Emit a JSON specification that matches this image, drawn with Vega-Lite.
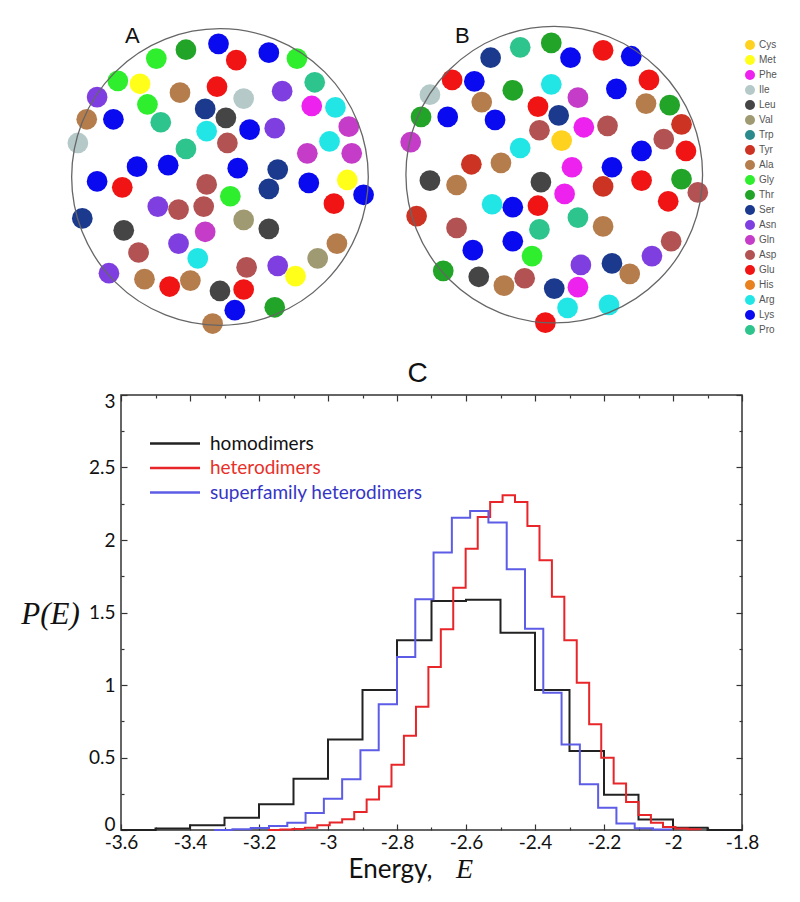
{
  "$schema": "https://vega.github.io/schema/vega-lite/v6.json",
  "padding": 0,
  "autosize": {"type": "pad"},
  "background": "white",
  "datasets": {
    "dotsA": [
      {"aa":"Lys","x":-1,"y":90},{"aa":"Thr","x":-23,"y":86},{"aa":"Gly","x":-43,"y":80},{"aa":"Glu","x":11,"y":79},{"aa":"Lys","x":33,"y":84},{"aa":"Gly","x":52,"y":80},
      {"aa":"Gly","x":-69,"y":65},{"aa":"Met","x":-54,"y":63},{"aa":"Asn","x":-83,"y":54},{"aa":"Ala","x":-27,"y":57},{"aa":"Glu","x":-2,"y":61},{"aa":"Ile","x":16,"y":53},
      {"aa":"Asn","x":42,"y":58},{"aa":"Pro","x":64,"y":64},{"aa":"Ala","x":-90,"y":39},{"aa":"Lys","x":-72,"y":39},{"aa":"Gly","x":-49,"y":49},{"aa":"Pro","x":-40,"y":37},
      {"aa":"Ser","x":-10,"y":46},{"aa":"Leu","x":4,"y":40},{"aa":"Phe","x":62,"y":48},{"aa":"Arg","x":78,"y":47},{"aa":"Ile","x":-96,"y":23},{"aa":"Arg","x":-9,"y":31},
      {"aa":"Asp","x":5,"y":23},{"aa":"Lys","x":20,"y":32},{"aa":"Asn","x":37,"y":33},{"aa":"Gln","x":87,"y":34},{"aa":"Pro","x":-23,"y":19},{"aa":"Arg","x":74,"y":24},
      {"aa":"Gln","x":59,"y":16},{"aa":"Gln","x":89,"y":16},{"aa":"Lys","x":-56,"y":7},{"aa":"Lys","x":-35,"y":8},{"aa":"Lys","x":12,"y":6},{"aa":"Ser","x":39,"y":5},
      {"aa":"Lys","x":-83,"y":-3},{"aa":"Glu","x":-66,"y":-7},{"aa":"Asp","x":-9,"y":-5},{"aa":"Gly","x":7,"y":-13},{"aa":"Ser","x":33,"y":-8},{"aa":"Lys","x":60,"y":-4},
      {"aa":"Met","x":86,"y":-2},{"aa":"Lys","x":97,"y":-12},{"aa":"Glu","x":77,"y":-18},{"aa":"Asn","x":-42,"y":-20},{"aa":"Asp","x":-28,"y":-22},{"aa":"Asp","x":-11,"y":-20},
      {"aa":"Ser","x":-93,"y":-28},{"aa":"Val","x":16,"y":-29},{"aa":"Leu","x":-65,"y":-36},{"aa":"Leu","x":33,"y":-35},{"aa":"Gln","x":-10,"y":-37},{"aa":"Asn","x":-28,"y":-45},
      {"aa":"Asp","x":-55,"y":-51},{"aa":"Arg","x":-15,"y":-55},{"aa":"Ala","x":79,"y":-45},{"aa":"Val","x":66,"y":-55},{"aa":"Asp","x":18,"y":-61},{"aa":"Asn","x":39,"y":-60},
      {"aa":"Asn","x":-75,"y":-65},{"aa":"Ala","x":-51,"y":-69},{"aa":"Glu","x":-34,"y":-74},{"aa":"Ala","x":-20,"y":-70},{"aa":"Met","x":51,"y":-67},{"aa":"Leu","x":0,"y":-77},
      {"aa":"Glu","x":16,"y":-76},{"aa":"Lys","x":10,"y":-90},{"aa":"Thr","x":37,"y":-88},{"aa":"Ala","x":-5,"y":-99}
    ],
    "dotsB": [
      {"aa":"Ser","x":-43,"y":79},{"aa":"Pro","x":-23,"y":86},{"aa":"Thr","x":-2,"y":89},{"aa":"Lys","x":11,"y":79},{"aa":"Glu","x":33,"y":84},{"aa":"Lys","x":52,"y":80},
      {"aa":"Glu","x":-69,"y":64},{"aa":"Lys","x":-54,"y":63},{"aa":"Ile","x":-84,"y":54},{"aa":"Thr","x":-28,"y":57},{"aa":"Arg","x":-2,"y":61},{"aa":"Gln","x":16,"y":52},
      {"aa":"Lys","x":42,"y":58},{"aa":"Glu","x":64,"y":64},{"aa":"Ala","x":-49,"y":49},{"aa":"Thr","x":-90,"y":39},{"aa":"Lys","x":-72,"y":39},{"aa":"Lys","x":-40,"y":37},
      {"aa":"Glu","x":-11,"y":46},{"aa":"Ser","x":3,"y":40},{"aa":"Ala","x":62,"y":48},{"aa":"Thr","x":78,"y":47},{"aa":"Asp","x":-10,"y":30},{"aa":"Phe","x":20,"y":32},
      {"aa":"Asp","x":36,"y":33},{"aa":"Cys","x":5,"y":23},{"aa":"Gln","x":-97,"y":22},{"aa":"Asp","x":74,"y":24},{"aa":"Tyr","x":86,"y":34},{"aa":"Arg","x":-23,"y":18},
      {"aa":"Lys","x":59,"y":16},{"aa":"Glu","x":89,"y":16},{"aa":"Tyr","x":-56,"y":7},{"aa":"Ala","x":-36,"y":8},{"aa":"Phe","x":12,"y":5},{"aa":"Lys","x":39,"y":5},
      {"aa":"Leu","x":-84,"y":-4},{"aa":"Ala","x":-66,"y":-7},{"aa":"Leu","x":-9,"y":-5},{"aa":"Phe","x":7,"y":-13},{"aa":"Tyr","x":33,"y":-8},{"aa":"Glu","x":59,"y":-4},
      {"aa":"Thr","x":86,"y":-3},{"aa":"Asp","x":97,"y":-12},{"aa":"Arg","x":-42,"y":-20},{"aa":"Lys","x":-28,"y":-22},{"aa":"Glu","x":-11,"y":-21},{"aa":"Tyr","x":-93,"y":-28},
      {"aa":"Pro","x":16,"y":-29},{"aa":"Glu","x":77,"y":-18},{"aa":"Asp","x":-66,"y":-36},{"aa":"Pro","x":-10,"y":-37},{"aa":"Ala","x":33,"y":-35},{"aa":"Lys","x":-28,"y":-45},
      {"aa":"Lys","x":-55,"y":-51},{"aa":"Gly","x":-15,"y":-55},{"aa":"Asp","x":79,"y":-45},{"aa":"Asn","x":18,"y":-61},{"aa":"Ser","x":39,"y":-60},{"aa":"Asn","x":66,"y":-55},
      {"aa":"Thr","x":-75,"y":-65},{"aa":"Leu","x":-51,"y":-69},{"aa":"Ala","x":-34,"y":-75},{"aa":"Asp","x":-20,"y":-70},{"aa":"Ala","x":51,"y":-67},{"aa":"Ser","x":0,"y":-77},
      {"aa":"Phe","x":16,"y":-76},{"aa":"Arg","x":9,"y":-90},{"aa":"Arg","x":37,"y":-88},{"aa":"Glu","x":-6,"y":-100}
    ],
    "center": [{"x": 0, "y": 0}],
    "hist": [
      {"series":"homodimers","E":-3.6,"P":0},{"series":"homodimers","E":-3.5,"P":0.01},{"series":"homodimers","E":-3.4,"P":0.032},{"series":"homodimers","E":-3.3,"P":0.085},
      {"series":"homodimers","E":-3.2,"P":0.177},{"series":"homodimers","E":-3.1,"P":0.354},{"series":"homodimers","E":-3.0,"P":0.625},{"series":"homodimers","E":-2.9,"P":0.966},
      {"series":"homodimers","E":-2.8,"P":1.308},{"series":"homodimers","E":-2.7,"P":1.579},{"series":"homodimers","E":-2.6,"P":1.588},{"series":"homodimers","E":-2.5,"P":1.361},
      {"series":"homodimers","E":-2.4,"P":0.966},{"series":"homodimers","E":-2.3,"P":0.545},{"series":"homodimers","E":-2.2,"P":0.243},{"series":"homodimers","E":-2.1,"P":0.072},
      {"series":"homodimers","E":-2.0,"P":0.016},{"series":"homodimers","E":-1.9,"P":0},{"series":"homodimers","E":-1.8,"P":0},
      {"series":"heterodimers","E":-3.174,"P":0},{"series":"heterodimers","E":-3.138,"P":0.003},{"series":"heterodimers","E":-3.103,"P":0.007},{"series":"heterodimers","E":-3.067,"P":0.015},
      {"series":"heterodimers","E":-3.031,"P":0.032},{"series":"heterodimers","E":-2.995,"P":0.052},{"series":"heterodimers","E":-2.959,"P":0.075},{"series":"heterodimers","E":-2.924,"P":0.125},
      {"series":"heterodimers","E":-2.888,"P":0.21},{"series":"heterodimers","E":-2.852,"P":0.30},{"series":"heterodimers","E":-2.816,"P":0.45},{"series":"heterodimers","E":-2.780,"P":0.65},
      {"series":"heterodimers","E":-2.745,"P":0.85},{"series":"heterodimers","E":-2.709,"P":1.124},{"series":"heterodimers","E":-2.673,"P":1.384},{"series":"heterodimers","E":-2.637,"P":1.671},
      {"series":"heterodimers","E":-2.601,"P":1.94},{"series":"heterodimers","E":-2.566,"P":2.159},{"series":"heterodimers","E":-2.530,"P":2.262},{"series":"heterodimers","E":-2.494,"P":2.308},
      {"series":"heterodimers","E":-2.458,"P":2.262},{"series":"heterodimers","E":-2.422,"P":2.097},{"series":"heterodimers","E":-2.387,"P":1.86},{"series":"heterodimers","E":-2.351,"P":1.609},
      {"series":"heterodimers","E":-2.315,"P":1.308},{"series":"heterodimers","E":-2.279,"P":1.015},{"series":"heterodimers","E":-2.243,"P":0.729},{"series":"heterodimers","E":-2.208,"P":0.499},
      {"series":"heterodimers","E":-2.172,"P":0.32},{"series":"heterodimers","E":-2.136,"P":0.193},{"series":"heterodimers","E":-2.100,"P":0.103},{"series":"heterodimers","E":-2.064,"P":0.05},
      {"series":"heterodimers","E":-2.029,"P":0.02},{"series":"heterodimers","E":-1.993,"P":0.01},{"series":"heterodimers","E":-1.957,"P":0.005},{"series":"heterodimers","E":-1.921,"P":0},
      {"series":"superfamily heterodimers","E":-3.330,"P":0},{"series":"superfamily heterodimers","E":-3.277,"P":0.005},{"series":"superfamily heterodimers","E":-3.224,"P":0.013},
      {"series":"superfamily heterodimers","E":-3.171,"P":0.028},{"series":"superfamily heterodimers","E":-3.118,"P":0.05},{"series":"superfamily heterodimers","E":-3.065,"P":0.117},
      {"series":"superfamily heterodimers","E":-3.012,"P":0.215},{"series":"superfamily heterodimers","E":-2.959,"P":0.35},{"series":"superfamily heterodimers","E":-2.906,"P":0.55},
      {"series":"superfamily heterodimers","E":-2.853,"P":0.867},{"series":"superfamily heterodimers","E":-2.800,"P":1.193},{"series":"superfamily heterodimers","E":-2.747,"P":1.591},
      {"series":"superfamily heterodimers","E":-2.694,"P":1.913},{"series":"superfamily heterodimers","E":-2.641,"P":2.154},{"series":"superfamily heterodimers","E":-2.588,"P":2.2},
      {"series":"superfamily heterodimers","E":-2.535,"P":2.12},{"series":"superfamily heterodimers","E":-2.482,"P":1.798},{"series":"superfamily heterodimers","E":-2.429,"P":1.388},
      {"series":"superfamily heterodimers","E":-2.376,"P":0.947},{"series":"superfamily heterodimers","E":-2.323,"P":0.59},{"series":"superfamily heterodimers","E":-2.270,"P":0.315},
      {"series":"superfamily heterodimers","E":-2.217,"P":0.154},{"series":"superfamily heterodimers","E":-2.164,"P":0.044},{"series":"superfamily heterodimers","E":-2.111,"P":0.012},
      {"series":"superfamily heterodimers","E":-2.058,"P":0.004},{"series":"superfamily heterodimers","E":-2.005,"P":0}
    ]
  },
  "vconcat": [
    {
      "hconcat": [
        {
          "width": 380, "height": 345,
          "title": {"text": "A", "anchor": "start", "dx": 125, "offset": -65, "baseline": "alphabetic", "fontSize": 22, "font": "Liberation Sans", "fontWeight": "normal", "color": "#111111"},
          "view": {"stroke": null, "fill": "white"},
          "layer": [
            {
              "data": {"name": "dotsA"},
              "mark": {"type": "point", "filled": true, "size": 430, "opacity": 1},
              "encoding": {
                "x": {"field": "x", "type": "quantitative", "scale": {"domain": [-148.6, 108.1], "nice": false, "zero": false}, "axis": null},
                "y": {"field": "y", "type": "quantitative", "scale": {"domain": [-113.5, 119.6], "nice": false, "zero": false}, "axis": null},
                "color": {"field": "aa", "type": "nominal",
                  "scale": {"domain": ["Cys","Met","Phe","Ile","Leu","Val","Trp","Tyr","Ala","Gly","Thr","Ser","Asn","Gln","Asp","Glu","His","Arg","Lys","Pro"],
                            "range": ["#FFD21F","#FFFF1A","#EE22EE","#B5C9C9","#454545","#A09A72","#2B8A8C","#CC3322","#B67D4C","#2EEE2E","#22A428","#1B3A8E","#7F3FE0","#C43CC8","#B25252","#F01414","#E8821E","#22E6E6","#0A0AF0","#2EC48E"]},
                  "legend": null}
              }
            },
            {
              "data": {"name": "center"},
              "mark": {"type": "point", "filled": false, "size": 88000, "stroke": "#666666", "strokeWidth": 1.3, "opacity": 1},
              "encoding": {
                "x": {"field": "x", "type": "quantitative"},
                "y": {"field": "y", "type": "quantitative"}
              }
            }
          ]
        },
        {
          "width": 325, "height": 345,
          "title": {"text": "B", "anchor": "start", "dx": 60, "offset": -65, "baseline": "alphabetic", "fontSize": 22, "font": "Liberation Sans", "fontWeight": "normal", "color": "#111111"},
          "view": {"stroke": null, "fill": "white"},
          "layer": [
            {
              "data": {"name": "dotsB"},
              "mark": {"type": "point", "filled": true, "size": 430, "opacity": 1},
              "encoding": {
                "x": {"field": "x", "type": "quantitative", "scale": {"domain": [-107.6, 112.0], "nice": false, "zero": false}, "axis": null},
                "y": {"field": "y", "type": "quantitative", "scale": {"domain": [-115.1, 118.0], "nice": false, "zero": false}, "axis": null},
                "color": {"field": "aa", "type": "nominal",
                  "scale": {"domain": ["Cys","Met","Phe","Ile","Leu","Val","Trp","Tyr","Ala","Gly","Thr","Ser","Asn","Gln","Asp","Glu","His","Arg","Lys","Pro"],
                            "range": ["#FFD21F","#FFFF1A","#EE22EE","#B5C9C9","#454545","#A09A72","#2B8A8C","#CC3322","#B67D4C","#2EEE2E","#22A428","#1B3A8E","#7F3FE0","#C43CC8","#B25252","#F01414","#E8821E","#22E6E6","#0A0AF0","#2EC48E"]},
                  "legend": {"orient": "none", "legendX": 350, "legendY": 40, "title": null, "symbolType": "circle", "symbolSize": 100, "symbolStrokeWidth": 0, "symbolOpacity": 1,
                             "labelFont": "Liberation Sans", "labelFontSize": 10, "labelColor": "#555555", "labelOffset": 4, "rowPadding": 5, "padding": 0}}
              }
            },
            {
              "data": {"name": "center"},
              "mark": {"type": "point", "filled": false, "size": 88000, "stroke": "#666666", "strokeWidth": 1.3, "opacity": 1},
              "encoding": {
                "x": {"field": "x", "type": "quantitative"},
                "y": {"field": "y", "type": "quantitative"}
              }
            }
          ]
        }
      ],
      "spacing": 15,
      "bounds": "flush",
      "resolve": {"scale": {"x": "independent", "y": "independent", "color": "independent"}, "legend": {"color": "independent"}}
    },
    {
      "hconcat": [
        {
          "width": 106, "height": 435,
          "data": {"values": []},
          "mark": {"type": "point", "opacity": 0},
          "view": {"stroke": null}
        },
        {
          "width": 621, "height": 435,
          "data": {"name": "hist"},
          "title": {"text": "C", "anchor": "middle", "dx": -14, "offset": -17.5, "baseline": "alphabetic", "fontSize": 28, "font": "Liberation Sans", "fontWeight": "normal", "color": "#111111"},
          "view": {"stroke": "#333333", "strokeWidth": 1.5},
          "layer": [
            {
              "mark": {"type": "line", "interpolate": "step-after", "strokeWidth": 2},
              "encoding": {
                "x": {"field": "E", "type": "quantitative", "scale": {"domain": [-3.6, -1.8], "nice": false, "zero": false},
                  "axis": {"orient": "bottom", "values": [-3.6,-3.5,-3.4,-3.3,-3.2,-3.1,-3,-2.9,-2.8,-2.7,-2.6,-2.5,-2.4,-2.3,-2.2,-2.1,-2,-1.9,-1.8],
                    "domain": false, "grid": false,
                    "tickSize": {"condition": {"test": "abs(round(datum.value*10)) % 2 == 0", "value": -6}, "value": -3},
                    "tickColor": "#333333", "tickWidth": 1.2,
                    "labelExpr": "abs(round(datum.value*10)) % 2 == 0 ? datum.value + '' : ''",
                    "labelFont": "Lato", "labelFontSize": 19, "labelColor": "#111111", "labelPadding": 9, "labelFlush": false, "labelOverlap": false, "labelBound": false,
                    "title": "Energy,", "titleFont": "Lato", "titleFontSize": 26, "titleFontWeight": "normal", "titleColor": "#111111",
                    "titleX": 269, "titleY": 47, "titleAlign": "center", "titleBaseline": "alphabetic"}},
                "y": {"field": "P", "type": "quantitative", "scale": {"domain": [0, 3], "nice": false, "zero": false},
                  "axis": {"orient": "left", "values": [0,0.25,0.5,0.75,1,1.25,1.5,1.75,2,2.25,2.5,2.75,3],
                    "domain": false, "grid": false,
                    "tickSize": {"condition": {"test": "round(datum.value*4) % 2 == 0", "value": -6}, "value": -3},
                    "tickColor": "#333333", "tickWidth": 1.2,
                    "labelExpr": "round(datum.value*4) % 2 == 0 ? datum.value + '' : ''",
                    "labelOffset": {"condition": [{"test": "datum.value == 0", "value": -6}, {"test": "datum.value == 3", "value": 6}], "value": 0},
                    "labelFont": "Lato", "labelFontSize": 19, "labelColor": "#111111", "labelPadding": 12, "labelOverlap": false, "labelBound": false,
                    "title": "P(E)", "titleFont": "Liberation Serif", "titleFontStyle": "italic", "titleFontSize": 31, "titleFontWeight": "normal", "titleColor": "#111111",
                    "titleAngle": 0, "titleX": -71, "titleY": 228, "titleAlign": "center", "titleBaseline": "alphabetic"}},
                "color": {"field": "series", "type": "nominal",
                  "scale": {"domain": ["homodimers", "heterodimers", "superfamily heterodimers"], "range": ["#222222", "#e8262a", "#5c5ce6"]},
                  "legend": {"orient": "none", "legendX": 165.5, "legendY": 39, "title": null,
                    "symbolType": "M-5,0H5", "symbolSize": 100, "symbolStrokeWidth": 2.5,
                    "labelFont": "Lato", "labelFontSize": 19, "labelOffset": 25.5, "labelLimit": 400, "rowPadding": 4.5, "padding": 0,
                    "encode": {"labels": {"update": {"fill": {"signal": "datum.value == 'heterodimers' ? '#e8302a' : datum.value == 'homodimers' ? '#111111' : '#3535c5'"}}}}}}
              }
            },
            {
              "mark": {"type": "point", "opacity": 0},
              "encoding": {
                "x": {"field": "E", "type": "quantitative",
                  "axis": {"orient": "top", "values": [-3.6,-3.5,-3.4,-3.3,-3.2,-3.1,-3,-2.9,-2.8,-2.7,-2.6,-2.5,-2.4,-2.3,-2.2,-2.1,-2,-1.9,-1.8],
                    "domain": false, "grid": false, "labels": false,
                    "tickSize": {"condition": {"test": "abs(round(datum.value*10)) % 2 == 0", "value": -6}, "value": -3},
                    "tickColor": "#333333", "tickWidth": 1.2,
                    "title": "E", "titleFont": "Liberation Serif", "titleFontStyle": "italic", "titleFontSize": 28, "titleFontWeight": "normal", "titleColor": "#111111",
                    "titleX": 343, "titleY": 482, "titleAlign": "center", "titleBaseline": "alphabetic", "titleAngle": 0}},
                "y": {"field": "P", "type": "quantitative",
                  "axis": {"orient": "right", "values": [0,0.25,0.5,0.75,1,1.25,1.5,1.75,2,2.25,2.5,2.75,3],
                    "domain": false, "grid": false, "labels": false,
                    "tickSize": {"condition": {"test": "round(datum.value*4) % 2 == 0", "value": -6}, "value": -3},
                    "tickColor": "#333333", "tickWidth": 1.2, "title": null}}
              }
            }
          ],
          "resolve": {"axis": {"x": "independent", "y": "independent"}}
        }
      ],
      "spacing": 15,
      "bounds": "flush",
      "resolve": {"scale": {"x": "independent", "y": "independent"}}
    }
  ],
  "spacing": 13,
  "resolve": {"scale": {"x": "independent", "y": "independent", "color": "independent"}, "legend": {"color": "independent"}},
  "config": {"view": {"stroke": null}, "font": "Lato"}
}
